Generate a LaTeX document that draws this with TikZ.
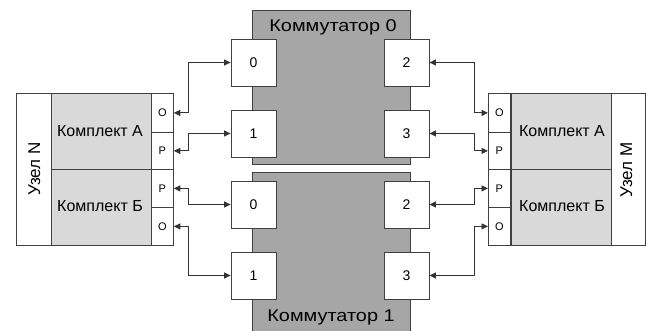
\documentclass[tikz,border=0pt]{standalone}
\usepackage{fontspec}
\setmainfont{Liberation Sans}
\usetikzlibrary{arrows.meta}
\begin{document}
\begin{tikzpicture}[x=1pt,y=-1pt,
  bord/.style={draw=black!75,line width=0.8pt},
  sw/.style={bord,fill=black!35,inner sep=0,anchor=north west},
  port/.style={bord,fill=white,minimum width=45pt,minimum height=47pt,inner sep=0,font=\fontsize{14}{16}\selectfont},
  cell/.style={bord,inner sep=0,anchor=north west},
  gcell/.style={cell,fill=black!15},
  pcell/.style={cell,fill=white,minimum width=22pt,font=\fontsize{11}{13}\selectfont},
  lbl/.style={inner sep=0,anchor=base,font=\fontsize{17}{19}\selectfont},
  swlbl/.style={lbl,xscale=1.17},
  klbl/.style={inner sep=0,anchor=base,font=\fontsize{16}{18}\selectfont},
  conn/.style={black!80,line width=0.9pt,{Triangle[length=6.5pt,width=6pt]}-{Triangle[length=6.5pt,width=6pt]}}
]
\useasboundingbox (0,0) rectangle (651,331);
% switches
\node[sw,minimum width=158pt,minimum height=154pt] (s0) at (252,10) {};
\node[sw,minimum width=158pt,minimum height=165pt] (s1) at (252,172) {};
\node[swlbl] (t0) at (333,31.5) {Коммутатор 0};
\node[swlbl] (t1) at (331,322) {Коммутатор 1};
% switch ports
\node[port] (s0p0) at (253.5,62.5) {0};
\node[port] (s0p1) at (253.5,133.5) {1};
\node[port] (s0p2) at (406.5,62.5) {2};
\node[port] (s0p3) at (406.5,133.5) {3};
\node[port] (s1p0) at (253.5,204.5) {0};
\node[port] (s1p1) at (253.5,275.5) {1};
\node[port] (s1p2) at (406.5,204.5) {2};
\node[port] (s1p3) at (406.5,275.5) {3};
% node N
\node[cell,fill=white,minimum width=35pt,minimum height=152pt] (nN) at (16,93) {};
\node[rotate=90,lbl] (nNt) at (40,169) {Узел N};
\node[gcell,minimum width=100pt,minimum height=76pt] (nNA) at (51,93) {};
\node[gcell,minimum width=100pt,minimum height=76pt] (nNB) at (51,169) {};
\node[klbl] (nNAt) at (100,136.5) {Комплект А};
\node[klbl] (nNBt) at (100,212) {Комплект Б};
\node[pcell,minimum height=39pt] (nOA) at (151,93) {O};
\node[pcell,minimum height=37pt] (nPA) at (151,132) {P};
\node[pcell,minimum height=38pt] (nPB) at (151,169) {P};
\node[pcell,minimum height=38pt] (nOB) at (151,207) {O};
% node M
\node[cell,fill=white,minimum width=34pt,minimum height=152pt] (nM) at (611,93) {};
\node[rotate=90,lbl] (nMt) at (632,170) {Узел M};
\node[gcell,minimum width=100pt,minimum height=76pt] (nMA) at (511,93) {};
\node[gcell,minimum width=100pt,minimum height=76pt] (nMB) at (511,169) {};
\node[klbl] (nMAt) at (562,136.5) {Комплект А};
\node[klbl] (nMBt) at (562,212) {Комплект Б};
\node[pcell,minimum height=39pt] (mOA) at (488,93) {O};
\node[pcell,minimum height=37pt] (mPA) at (488,132) {P};
\node[pcell,minimum height=38pt] (mPB) at (488,169) {P};
\node[pcell,minimum height=38pt] (mOB) at (488,207) {O};
% connectors left
\draw[conn] (nOA.east) -| (188,62.5) -- (s0p0.west);
\draw[conn] (nPA.east) -| (188,133.5) -- (s0p1.west);
\draw[conn] (nPB.east) -| (188,204.5) -- (s1p0.west);
\draw[conn] (nOB.east) -| (188,275.5) -- (s1p1.west);
% connectors right
\draw[conn] (mOA.west) -| (474,62.5) -- (s0p2.east);
\draw[conn] (mPA.west) -| (474,133.5) -- (s0p3.east);
\draw[conn] (mPB.west) -| (474,204.5) -- (s1p2.east);
\draw[conn] (mOB.west) -| (474,275.5) -- (s1p3.east);
\end{tikzpicture}
\end{document}
